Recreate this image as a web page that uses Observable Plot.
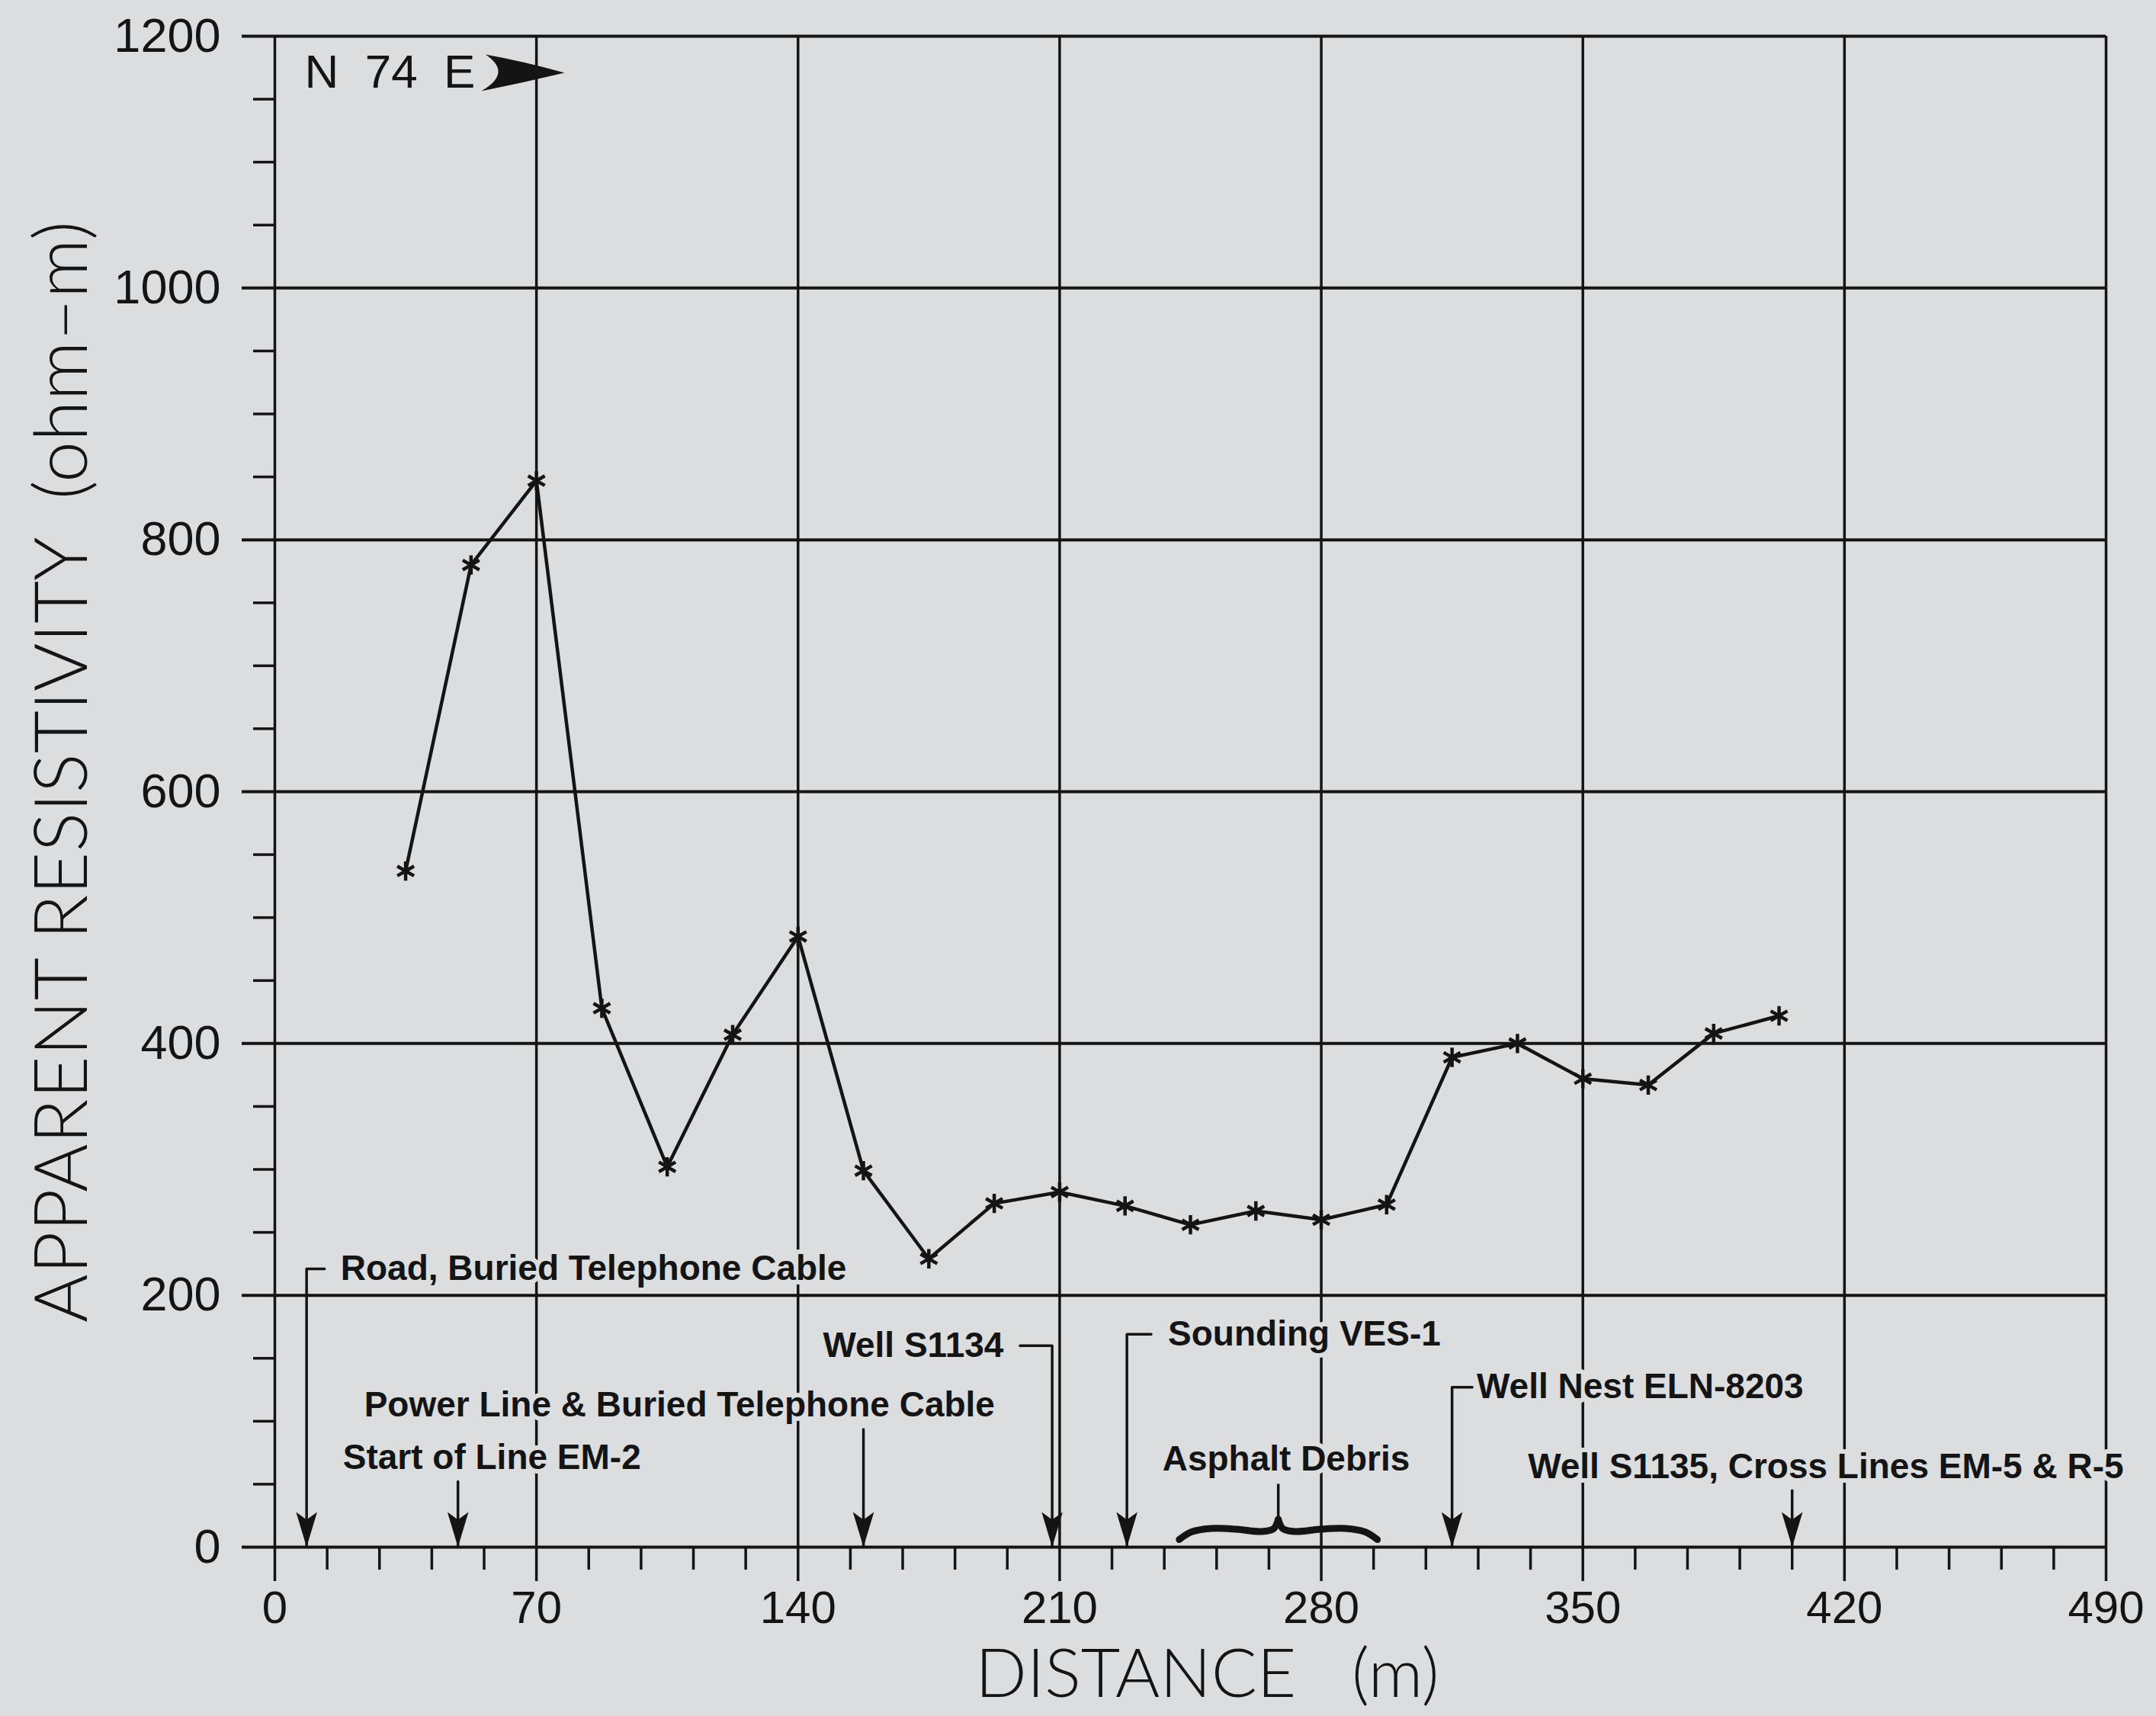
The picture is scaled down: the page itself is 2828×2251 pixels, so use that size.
<!DOCTYPE html>
<html>
<head>
<meta charset="utf-8">
<script src="https://cdn.jsdelivr.net/npm/d3@7"></script>
<script src="https://cdn.jsdelivr.net/npm/@observablehq/plot@0.6"></script>
<style>
  html, body { margin: 0; padding: 0; background: #dcdddf; }
  #chart svg { display: block; }
</style>
</head>
<body>
<div id="chart"></div>
<script>
// Apparent resistivity profile, line EM-2 (bearing N 74 E)
const distance = [35, 52.5, 70, 87.5, 105, 122.5, 140, 157.5, 175, 192.5, 210,
                  227.5, 245, 262.5, 280, 297.5, 315, 332.5, 350, 367.5, 385, 402.5];
const resistivity = [537, 780, 847, 428, 302, 407, 485, 299, 229, 273, 282,
                     271, 256, 267, 260, 272, 389, 400, 372, 367, 408, 422];

// Axis ticks
const xTicks = [0, 70, 140, 210, 280, 350, 420, 490];
const xMinorTicks = d3.range(14, 490, 14).filter(d => d % 70 !== 0);
const yTicks = [0, 200, 400, 600, 800, 1000, 1200];
const yMinorTicks = d3.range(50, 1200, 50).filter(d => d % 200 !== 0);

// Site features along the line and their distance (m)
const featureLabel = [
  "Road, Buried Telephone Cable",
  "Start of Line EM-2",
  "Power Line & Buried Telephone Cable",
  "Well S1134",
  "Sounding VES-1",
  "Well Nest ELN-8203",
  "Well S1135, Cross Lines EM-5 & R-5"
];
const featureAt = [8.5, 49, 157.5, 208, 228, 315, 406];

// Zone of asphalt debris (m)
const debrisLabel = "Asphalt Debris";
const debrisSpan = [242, 295];

const bearingLabel = "N\u00a0\u00a074\u00a0\u00a0E";
const xTitle = "DISTANCE\u00a0\u00a0\u00a0(m)";
const yTitle = "APPARENT RESISTIVITY\u00a0\u00a0(ohm\u2013m)";

// ---- label layout (rows are in chart units above the baseline) ----
const labelRow    = [221, 71, 112.5, 160, 169, 127, 64];
const labelStart  = [17.6, 18.2, 23.9, 195, 239, 321.6, 335.3];
const leaderBend  = [13.3, null, null, 199.4, 234.5, 320.4, null];
const labelAnchor = ["start", "start", "start", "end", "start", "start", "start"];
const debrisRow = 70;

const paper = "#dcdddf";
const ink = "#141414";
const labelFont = "'Liberation Sans', Arial, sans-serif";
const titleFont = "Lato, Roboto, sans-serif";

const profile = distance.map((d, i) => ({distance: d, resistivity: resistivity[i]}));

const features = featureLabel.map((label, i) => ({
  label, at: featureAt[i], row: labelRow[i], start: labelStart[i],
  bend: leaderBend[i], anchor: labelAnchor[i]
}));

// Leader lines: straight drops, or elbows running over to the label
const leaders = features.flatMap(f => f.bend == null
  ? [{id: f.label, x: f.at, y: 0}, {id: f.label, x: f.at, y: f.row - 19}]
  : [{id: f.label, x: f.at, y: 0}, {id: f.label, x: f.at, y: f.row}, {id: f.label, x: f.bend, y: f.row}]);

// Curly brace over the debris zone, built from a unit profile
const braceProfile = [[0, 0], [0.06, 6], [0.16, 8.8], [0.29, 8.2], [0.41, 6.4], [0.475, 8.4], [0.5, 16]];
const [d0, d1] = debrisSpan;
const braceBase = 6;
const braceArms = [
  ...braceProfile.map(([u, v]) => ({arm: "left", x: d0 + u * (d1 - d0), y: braceBase + v})),
  ...braceProfile.map(([u, v]) => ({arm: "right", x: d1 - u * (d1 - d0), y: braceBase + v}))
];
const debrisMid = (d0 + d1) / 2;
const braceStem = [{x: debrisMid, y1: braceBase + 16, y2: 50}];

// Filled arrowheads; the tip sits on the anchor point
const arrowDown = {
  draw(context, size) {
    const r = Math.sqrt(size / Math.PI);
    const w = r * 0.3;
    context.moveTo(0, 0);
    context.lineTo(-w, -r);
    context.lineTo(0, -r * 0.78);
    context.lineTo(w, -r);
    context.closePath();
  }
};
const arrowRight = {
  draw(context, size) {
    const r = Math.sqrt(size / Math.PI);
    context.moveTo(0, 0);
    context.quadraticCurveTo(-r * 0.5, -r * 0.14, -r * 0.95, -r * 0.22);
    context.quadraticCurveTo(-r * 0.62, 0, -r, r * 0.22);
    context.quadraticCurveTo(-r * 0.5, r * 0.12, 0, 0);
    context.closePath();
  }
};

const halo = {stroke: paper, strokeWidth: 12};

const chart = Plot.plot({
  width: 2828,
  height: 2251,
  marginLeft: 360,
  marginRight: 66,
  marginTop: 47,
  marginBottom: 222,
  style: {background: paper, color: ink, maxWidth: "none"},
  x: {domain: [0, 490], label: null},
  y: {domain: [0, 1200], label: null},
  marks: [
    // grid and frame
    Plot.ruleX(xTicks, {stroke: ink, strokeWidth: 3.5}),
    Plot.ruleY(yTicks, {stroke: ink, strokeWidth: 4}),

    // tick marks
    Plot.axisY(yMinorTicks, {anchor: "left", tickSize: 28, tickFormat: () => "", label: null, stroke: ink, strokeWidth: 3.5}),
    Plot.axisY(yTicks, {anchor: "left", tickSize: 43, tickFormat: () => "", label: null, stroke: ink, strokeWidth: 4}),
    Plot.axisX(xMinorTicks, {anchor: "bottom", tickSize: 30, tickFormat: () => "", label: null, stroke: ink, strokeWidth: 3.5}),
    Plot.axisX(xTicks, {anchor: "bottom", tickSize: 45, tickFormat: () => "", label: null, stroke: ink, strokeWidth: 3.5}),

    // tick labels
    Plot.text(yTicks, {y: d => d, text: d => String(d), frameAnchor: "left", dx: -71,
      textAnchor: "end", lineAnchor: "middle", fontSize: 63, fontFamily: labelFont, fill: ink}),
    Plot.text(xTicks, {x: d => d, text: d => String(d), frameAnchor: "bottom", dy: 80,
      lineAnchor: "middle", fontSize: 60, fontFamily: labelFont, fill: ink}),

    // axis titles
    Plot.text([xTitle], {frameAnchor: "bottom", dx: 22, dy: 168, textAnchor: "middle",
      lineAnchor: "middle", fontSize: 89, fontWeight: 300, fontFamily: titleFont, fill: ink}),
    Plot.text([yTitle], {frameAnchor: "left", dx: -278, dy: -26, textAnchor: "middle",
      rotate: -90, lineAnchor: "middle", fontSize: 97, fontWeight: 300, fontFamily: titleFont, fill: ink}),

    // bearing
    Plot.text([{x: 30.8, y: 1171, label: bearingLabel}], {x: "x", y: "y", text: "label",
      lineAnchor: "middle", fontSize: 62, fontFamily: labelFont, fill: ink}),
    Plot.dot([{x: 77.5, y: 1171}], {x: "x", y: "y", symbol: arrowRight, r: 109, fill: ink, stroke: "none"}),

    // feature leaders and labels
    Plot.line(leaders, {x: "x", y: "y", z: "id", stroke: ink, strokeWidth: 3.5}),
    Plot.dot(features, {x: "at", y: () => 0, symbol: arrowDown, r: 46, fill: ink, stroke: "none"}),
    Plot.text(features.filter(f => f.anchor === "start"), {x: "start", y: "row", text: "label",
      textAnchor: "start", lineAnchor: "middle", fontSize: 46, fontWeight: "bold",
      fontFamily: labelFont, fill: ink, ...halo}),
    Plot.text(features.filter(f => f.anchor === "end"), {x: "start", y: "row", text: "label",
      textAnchor: "end", lineAnchor: "middle", fontSize: 46, fontWeight: "bold",
      fontFamily: labelFont, fill: ink, ...halo}),

    // asphalt debris brace
    Plot.line(braceArms, {x: "x", y: "y", z: "arm", curve: "catmull-rom", stroke: ink,
      strokeWidth: 9, strokeLinecap: "round"}),
    Plot.ruleX(braceStem, {x: "x", y1: "y1", y2: "y2", stroke: ink, strokeWidth: 3.5}),
    Plot.text([{x: 270.6, y: debrisRow, label: debrisLabel}], {x: "x", y: "y", text: "label",
      lineAnchor: "middle", fontSize: 46, fontWeight: "bold", fontFamily: labelFont, fill: ink, ...halo}),

    // resistivity profile
    Plot.line(profile, {x: "distance", y: "resistivity", stroke: ink, strokeWidth: 4.5}),
    Plot.dot(profile, {x: "distance", y: "resistivity", symbol: "asterisk", r: 12, stroke: ink, strokeWidth: 4.5})
  ]
});

document.getElementById("chart").append(chart);
</script>
</body>
</html>
